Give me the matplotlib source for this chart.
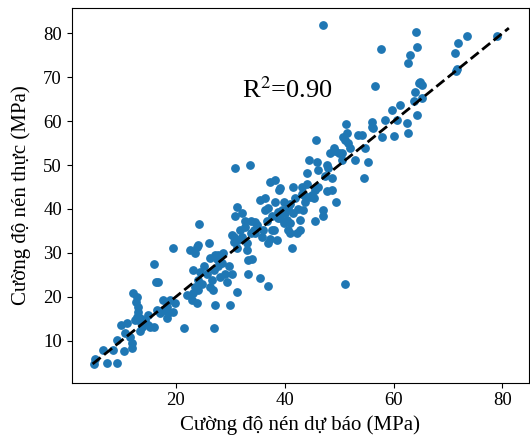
import numpy as np
import matplotlib
matplotlib.use('Agg')
import matplotlib.pyplot as plt

plt.rcParams['font.family'] = ['Liberation Serif', 'DejaVu Serif']
plt.rcParams['mathtext.fontset'] = 'stix'

predicted = [
    5.0, 5.2, 7.3, 9.25, 6.7, 8.5, 9.25, 10.5, 10.0, 11.0, 10.7, 11.6, 11.9, 11.9,
    12.2, 12.8, 12.7, 13.1, 13.1, 12.9, 12.5, 13.4, 13.7, 13.4, 14.3, 14.8, 15.3, 15.9,
    14.9, 16.0, 16.4, 16.8, 16.5, 17.1, 17.7, 17.7, 18.3, 18.4, 18.6, 19.5, 19.9, 19.5,
    21.5, 22.6, 22.9, 23.2, 23.2, 23.5, 23.8, 24.0, 24.1, 24.3, 24.4, 23.8, 24.8, 25.1,
    25.7, 26.0, 26.3, 26.6, 26.9, 27.2, 27.0, 27.0, 27.5, 27.8, 28.1, 28.4, 28.7, 29.0,
    29.4, 29.7, 30.0, 30.3, 30.6, 30.9, 30.9, 31.2, 31.2, 31.5, 31.8, 32.1, 32.7, 33.0,
    33.3, 33.3, 33.6, 33.8, 34.0, 34.3, 34.5, 34.9, 35.4, 35.5, 35.8, 36.1, 36.4, 36.4,
    36.7, 37.0, 37.0, 37.3, 37.3, 37.6, 38.0, 38.2, 38.2, 38.6, 38.9, 39.2, 39.5, 39.8,
    40.1, 40.4, 40.7, 41.0, 41.3, 41.6, 41.6, 41.9, 42.2, 42.5, 42.8, 43.1, 43.4, 43.8,
    44.1, 44.1, 44.4, 44.7, 45.0, 45.3, 45.6, 45.8, 45.9, 46.2, 47.0, 47.1, 47.1, 47.4,
    47.7, 47.7, 48.0, 48.4, 48.7, 48.7, 49.0, 49.3, 49.4, 49.9, 50.5, 50.8, 51.1, 51.1,
    51.3, 51.4, 51.7, 52.0, 52.9, 53.5, 54.2, 54.5, 54.8, 55.4, 56.0, 56.2, 56.6, 57.7,
    57.8, 58.5, 59.7, 60.0, 60.6, 61.2, 62.4, 62.6, 62.7, 63.1, 63.7, 64.2, 64.3, 63.9,
    64.4, 64.6, 64.9, 65.2, 65.2, 71.3, 71.9, 71.5, 73.5, 79.0,
    13.4, 18.9, 22.0, 23.5, 39.2, 37.0, 38.8, 40.7, 32.7, 37.6, 41.0, 42.8, 41.0, 30.3,
    32.1, 33.8, 30.6, 31.2, 33.0, 27.2, 26.3, 50.5, 43.1, 46.2, 45.6, 43.8, 38.8, 34.6,
    39.8, 24.1, 27.8, 71.6, 56.0,
]
actual = [
    4.7, 5.9, 5.0, 5.0, 7.9, 7.9, 10.2, 7.7, 13.6, 14.0, 11.7, 10.8, 9.4, 8.3,
    20.8, 20.0, 18.9, 17.7, 16.6, 15.5, 14.7, 14.4, 13.2, 12.1, 14.7, 13.6, 13.2, 13.2,
    15.9, 27.5, 23.4, 23.4, 17.0, 16.2, 17.0, 19.3, 17.7, 15.1, 16.2, 16.6, 18.5, 31.0,
    12.8, 30.7, 19.3, 20.8, 26.1, 29.9, 31.4, 23.8, 21.5, 36.6, 25.6, 18.5, 23.0, 26.9,
    25.3, 32.2, 22.3, 23.8, 21.5, 18.1, 12.8, 26.1, 28.7, 26.9, 24.6, 27.6, 29.9, 25.3,
    23.4, 26.9, 18.1, 25.3, 33.7, 38.3, 49.3, 21.2, 40.5, 33.0, 35.2, 39.0, 37.2, 32.2,
    28.4, 25.3, 50.0, 37.2, 28.7, 35.2, 34.5, 36.3, 24.2, 42.0, 33.7, 35.2, 42.4, 39.8,
    37.2, 22.4, 32.2, 46.2, 33.2, 38.3, 35.2, 41.6, 46.6, 33.0, 44.3, 37.9, 39.8, 41.6,
    39.0, 37.5, 35.2, 41.2, 31.0, 45.1, 39.0, 42.4, 34.5, 40.1, 37.5, 43.5, 39.8, 41.6,
    45.8, 48.1, 51.2, 42.8, 43.1, 42.4, 37.2, 55.7, 50.8, 48.9, 81.9, 39.8, 38.3, 47.4,
    50.0, 44.0, 49.3, 52.7, 47.0, 44.3, 53.8, 53.1, 41.6, 52.7, 51.2, 56.5, 23.0, 55.7,
    59.3, 57.2, 55.0, 53.8, 51.2, 56.9, 56.9, 47.0, 53.8, 50.6, 59.9, 58.4, 67.9, 76.4,
    56.3, 60.3, 62.5, 56.6, 60.3, 63.7, 59.5, 57.2, 73.2, 75.1, 64.5, 80.4, 77.0, 66.7,
    61.4, 68.6, 69.0, 68.2, 65.2, 75.6, 77.7, 71.5, 79.5, 79.5,
    15.1, 19.3, 20.4, 22.3, 44.7, 40.2, 39.4, 40.2, 36.0, 35.2, 36.7, 35.2, 34.5, 34.1,
    33.7, 34.5, 32.5, 31.0, 30.7, 29.5, 28.8, 52.7, 45.1, 45.1, 44.3, 43.0, 37.9, 37.1,
    36.7, 31.8, 29.5, 71.9, 58.7,
]
diag = [4.7, 81.2]

fig = plt.figure(figsize=(5.30, 4.36), dpi=100)
ax = fig.add_axes([0.1353, 0.1222, 0.8628, 0.8587])

ax.scatter(predicted, actual, s=28, color='#1f77b4', zorder=2)
ax.plot(diag, diag, 'k--', linewidth=2, zorder=3)

ax.text(40.4, 67.1, r'R$^2$=0.90', fontsize=19, ha='center', va='center')

ax.set_xlim(0.86, 84.9)
ax.set_ylim(0.43, 85.7)
ax.set_xticks([20, 40, 60, 80])
ax.set_yticks([10, 20, 30, 40, 50, 60, 70, 80])
ax.tick_params(labelsize=13.5)
ax.set_xlabel('Cường độ nén dự báo (MPa)', fontsize=15)
ax.set_ylabel('Cường độ nén thực (MPa)', fontsize=15, labelpad=9)

fig.savefig('out.png', dpi=100)
